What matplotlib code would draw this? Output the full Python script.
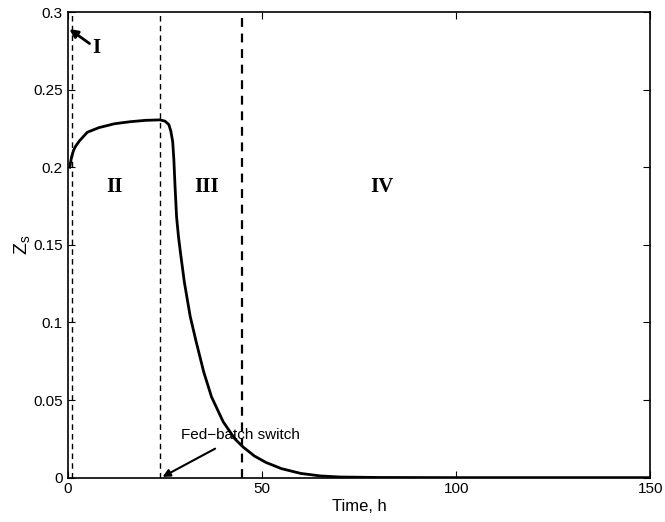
import numpy as np
import matplotlib.pyplot as plt

plt.rcParams['font.family'] = ['Liberation Sans', 'DejaVu Sans']

# Zs curve
time_h = [0.5, 0.7, 1.0, 1.5, 2, 3, 5, 8, 12, 16, 20, 23.7, 25, 26, 26.5,
          27, 27.3, 27.6, 28, 28.5, 29, 30, 31.5, 33, 35, 37, 40, 43, 45,
          48, 51, 55, 60, 65, 70, 80, 100, 150]
zs = [0.200, 0.203, 0.207, 0.211, 0.2135, 0.217, 0.2225, 0.2255, 0.228,
      0.2293, 0.2302, 0.2305, 0.2297, 0.2275, 0.2235, 0.2165, 0.205, 0.188,
      0.168, 0.155, 0.145, 0.126, 0.104, 0.088, 0.068, 0.052, 0.036, 0.025,
      0.020, 0.014, 0.0098, 0.0058, 0.0027, 0.0011, 0.0004, 0.0001, 0.0, 0.0]

# phase boundaries
bounds = [1.2, 23.7, 44.9]
bound_lw = [1.0, 1.0, 1.6]

phase_labels = ['II', 'III', 'IV']
phase_x = [12, 35.8, 81]
phase_y = [0.187, 0.187, 0.187]

fig = plt.figure(figsize=(6.65, 5.22), dpi=100)
ax = fig.add_axes([0.102, 0.085, 0.876, 0.892])

ax.plot(time_h, zs, color='black', lw=2)
for b, lw in zip(bounds, bound_lw):
    ax.axvline(b, color='black', ls=(0, (4, 3)), lw=lw)

for lab, x, y in zip(phase_labels, phase_x, phase_y):
    ax.text(x, y, lab, family='Liberation Serif', fontweight='bold',
            fontsize=15, ha='center', va='center')

ax.annotate('I', xy=(0.4, 0.289), xytext=(6.3, 0.2765),
            family='Liberation Serif', fontweight='bold', fontsize=15,
            va='center', ha='left',
            arrowprops=dict(arrowstyle='-|>', color='black', lw=2,
                            mutation_scale=12, shrinkA=0, shrinkB=0))

ax.annotate('Fed\u2212batch switch', xy=(24.4, 0.0005), xytext=(29.2, 0.0275),
            fontsize=11, va='center', ha='left',
            arrowprops=dict(arrowstyle='-|>', color='black', lw=1.5,
                            mutation_scale=11, shrinkA=6, shrinkB=0))

ax.set_xlim(0, 150)
ax.set_ylim(0, 0.3)
ax.set_xticks([0, 50, 100, 150])
ax.set_yticks([0, 0.05, 0.1, 0.15, 0.2, 0.25, 0.3])
ax.set_yticklabels(['0', '0.05', '0.1', '0.15', '0.2', '0.25', '0.3'])
ax.tick_params(direction='in', top=True, right=True, labelsize=11, length=5)
ax.set_xlabel('Time, h', fontsize=12, labelpad=2)
ax.set_ylabel('$\\mathregular{Z_s}$', fontsize=14, labelpad=1)
for s in ax.spines.values():
    s.set_linewidth(1.2)

fig.savefig('out.png', dpi=100)
